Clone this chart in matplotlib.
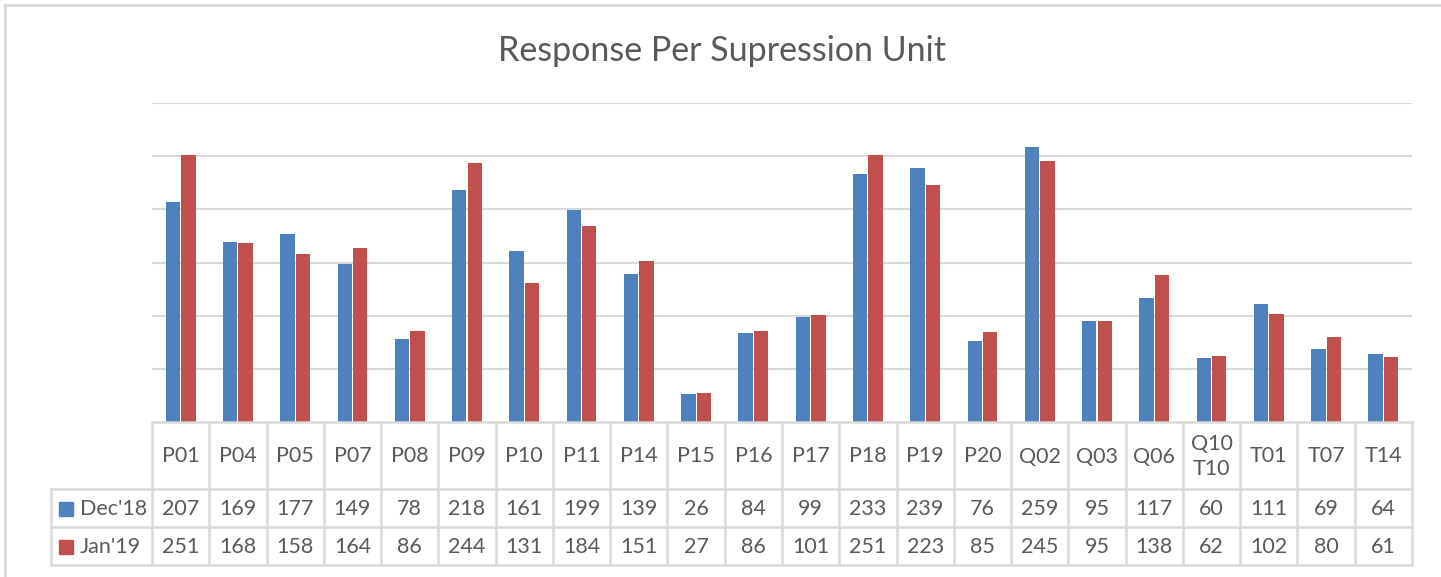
import matplotlib.pyplot as plt
from matplotlib.lines import Line2D
import numpy as np

plt.rcParams['font.family'] = ['Lato', 'DejaVu Sans']

# data
units = ['P01', 'P04', 'P05', 'P07', 'P08', 'P09', 'P10', 'P11', 'P14', 'P15',
         'P16', 'P17', 'P18', 'P19', 'P20', 'Q02', 'Q03', 'Q06', 'Q10\nT10',
         'T01', 'T07', 'T14']
dec18 = [207, 169, 177, 149, 78, 218, 161, 199, 139, 26, 84, 99, 233, 239, 76,
         259, 95, 117, 60, 111, 69, 64]
jan19 = [251, 168, 158, 164, 86, 244, 131, 184, 151, 27, 86, 101, 251, 223, 85,
         245, 95, 138, 62, 102, 80, 61]
series_names = ["Dec'18", "Jan'19"]

blue = '#4F81BD'
red = '#C0504D'
txt = '#595959'
grid = '#D9D9D9'

W, H = 1441, 577
fig = plt.figure(figsize=(W / 100, H / 100), dpi=100)

def fx(x):
    return x / W

def fy(y):
    return 1 - y / H

n = len(units)
x = np.arange(n)

# bar axes (pixel box 152..1412, 103..422)
ax = fig.add_axes([fx(152), fy(422), fx(1412) - fx(152), fy(103) - fy(422)])
ax.bar(x - 0.135, dec18, width=0.25, color=blue, zorder=3)
ax.bar(x + 0.135, jan19, width=0.25, color=red, zorder=3)
ax.set_xlim(-0.5, n - 0.5)
ax.set_ylim(0, 300)
ax.set_yticks(np.arange(50, 301, 50))
ax.yaxis.grid(True, color=grid, linewidth=1.5)
ax.set_axisbelow(True)
ax.tick_params(left=False, bottom=False, labelleft=False, labelbottom=False)
for s in ax.spines.values():
    s.set_visible(False)

# data table axes (pixel box 51..1412, 422..565)
cw = (1412 - 152) / n
tab = fig.add_axes([fx(51), fy(565), fx(1412) - fx(51), fy(422) - fy(565)])
x0 = -0.5 - 101 / cw
tab.set_xlim(x0, n - 0.5)
tab.set_ylim(143, 0)
tab.axis('off')

lc = dict(color=grid, linewidth=1.8, clip_on=False)
# horizontal lines
tab.plot([-0.5, n - 0.5], [0, 0], **lc)
for yy in [67, 105, 143]:
    tab.plot([x0, n - 0.5], [yy, yy], **lc)
# vertical lines
for k in range(n + 1):
    tab.plot([k - 0.5, k - 0.5], [0, 143], **lc)
tab.plot([x0, x0], [67, 143], **lc)

fs = 15.5
for i, u in enumerate(units):
    tab.text(i, 34.5, u, ha='center', va='center', fontsize=fs, color=txt,
             linespacing=1.3)
    tab.text(i, 87, str(dec18[i]), ha='center', va='center', fontsize=fs, color=txt)
    tab.text(i, 125, str(jan19[i]), ha='center', va='center', fontsize=fs, color=txt)

# legend keys in the table
for yy, name, col in [(87, series_names[0], blue), (125, series_names[1], red)]:
    tab.plot([x0 + 15 / cw], [yy], marker='s', markersize=9.5, color=col,
             linestyle='none', clip_on=False)
    tab.text(x0 + 29 / cw, yy, name, ha='left', va='center', fontsize=fs, color=txt)

fig.text(fx(722), fy(51), 'Response Per Supression Unit', ha='center', va='center',
         fontsize=24.5, color=txt)

# chart border
fig.add_artist(Line2D([fx(5), 1], [fy(5), fy(5)], color=grid, linewidth=2))
fig.add_artist(Line2D([fx(5), fx(5)], [fy(5), 0], color=grid, linewidth=2))

fig.savefig('out.png', dpi=100)
